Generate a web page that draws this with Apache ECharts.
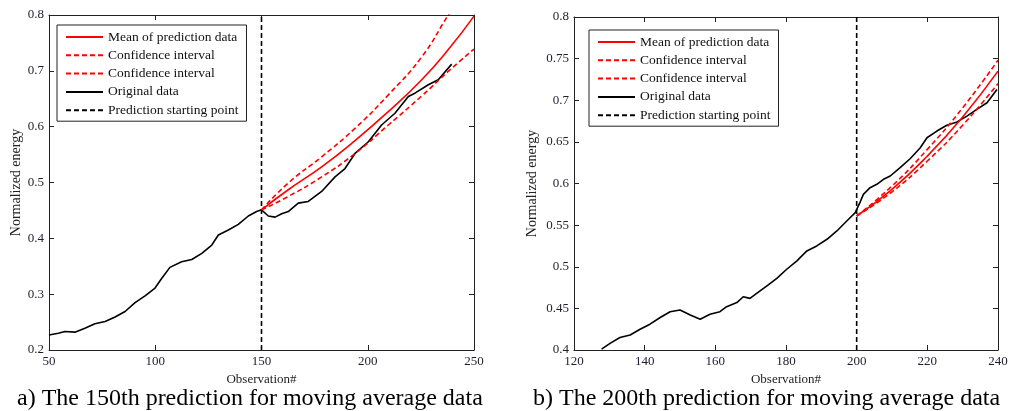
<!DOCTYPE html>
<html>
<head>
<meta charset="utf-8">
<script src="https://cdn.jsdelivr.net/npm/echarts@6/dist/echarts.min.js"></script>
<style>
html,body{margin:0;padding:0;background:#fff;}
#chart{width:1016px;height:411px;}
</style>
</head>
<body>
<div id="chart"></div>
<script>
// ---------- data ----------
const leftOrigObs = [50,54.4,57.5,62.2,66.9,71.6,76.4,81.1,85.8,90.5,95.2,99.9,103,106.9,112.4,117.2,121.9,126.6,129.7,134.4,139.1,143.8,147.7,150,153.2,156.4,159.5,162.6,167.3,172,178.3,184.6,189.3,194,200.3,206.5,212.8,219.1,222.2,228.5,233.2,239.5];
const leftOrigVal = [0.227,0.230,0.233,0.232,0.239,0.247,0.251,0.259,0.269,0.285,0.297,0.311,0.328,0.348,0.358,0.362,0.373,0.388,0.406,0.415,0.425,0.440,0.448,0.451,0.440,0.438,0.444,0.448,0.463,0.466,0.484,0.510,0.525,0.552,0.573,0.603,0.624,0.654,0.660,0.675,0.684,0.712];
const leftPredObs = [150,162.6,178.3,194,209.7,225.4,237.9,250];
const leftMean  = [0.451,0.487,0.528,0.575,0.627,0.684,0.738,0.798];
const leftUpper = [0.451,0.499,0.546,0.597,0.657,0.725,0.800,0.870];
const leftLower = [0.451,0.475,0.510,0.552,0.603,0.655,0.699,0.739];
const leftStart = 150;

const rightOrigObs = [127.8,130.2,133,135.9,138.7,141.5,144.4,147.2,150,152.9,155.7,158.5,161.3,163.2,166.1,167.9,169.8,171.7,174.6,177.4,180.2,183.1,185.9,188.7,191.6,194.4,197.2,199.6,201,201.9,203.8,205.7,207.6,209.5,212.3,215.2,218,219.9,222.7,225.5,228.4,231.2,234,236.9,239.7];
const rightOrigVal = [0.401,0.408,0.415,0.418,0.425,0.431,0.439,0.446,0.448,0.442,0.437,0.443,0.446,0.452,0.457,0.464,0.462,0.468,0.477,0.486,0.497,0.507,0.519,0.525,0.533,0.543,0.555,0.565,0.578,0.587,0.595,0.599,0.605,0.609,0.619,0.630,0.643,0.655,0.663,0.670,0.674,0.681,0.689,0.697,0.713];
const rightPredObs = [200,210,220,230,240];
const rightMean  = [0.561,0.593,0.633,0.680,0.735];
const rightUpper = [0.561,0.597,0.641,0.691,0.748];
const rightLower = [0.561,0.590,0.627,0.670,0.720];
const rightStart = 200;

const legendNames = ['Mean of prediction data','Confidence interval','Confidence interval ','Original data','Prediction starting point'];
const captionA = 'a) The 150th prediction for moving average data';
const captionB = 'b) The 200th prediction for moving average data';
const xName = 'Observation#';
const yName = 'Normalized energy';

// ---------- helpers ----------
const SERIF = 'Liberation Serif';
const zip = (xs, ys) => xs.map((x, i) => [x, ys[i]]);
const AX = '#222';

function mainX(grid, min, max, interval) {
  return {
    type: 'value', gridIndex: grid, min, max, interval, position: 'bottom',
    name: xName, nameLocation: 'middle', nameGap: 22,
    nameTextStyle: {fontFamily: SERIF, fontSize: 13, color: '#222'},
    axisLine: {show: true, onZero: false, lineStyle: {color: AX, width: 1}},
    axisTick: {show: true, inside: true, length: 5, lineStyle: {color: AX}},
    axisLabel: {fontFamily: SERIF, fontSize: 13, color: '#1e1e30', margin: 5},
    splitLine: {show: false}
  };
}
function boxX(grid, min, max, interval) {
  return {
    type: 'value', gridIndex: grid, min, max, interval, position: 'top',
    axisLine: {show: true, onZero: false, lineStyle: {color: AX, width: 1}},
    axisTick: {show: true, inside: true, length: 5, lineStyle: {color: AX}},
    axisLabel: {show: false}, splitLine: {show: false}
  };
}
function mainY(grid, min, max, interval, gap) {
  return {
    type: 'value', gridIndex: grid, min, max, interval, position: 'left',
    name: yName, nameLocation: 'middle', nameGap: gap,
    nameTextStyle: {fontFamily: SERIF, fontSize: 14, color: '#222'},
    axisLine: {show: true, onZero: false, lineStyle: {color: AX, width: 1}},
    axisTick: {show: true, inside: true, length: 5, lineStyle: {color: AX}},
    axisLabel: {fontFamily: SERIF, fontSize: 13, color: '#1e1e30', margin: 5},
    splitLine: {show: false}
  };
}
function boxY(grid, min, max, interval) {
  return {
    type: 'value', gridIndex: grid, min, max, interval, position: 'right',
    axisLine: {show: true, onZero: false, lineStyle: {color: AX, width: 1}},
    axisTick: {show: true, inside: true, length: 5, lineStyle: {color: AX}},
    axisLabel: {show: false}, splitLine: {show: false}
  };
}
function line(name, data, xi, yi, color, dashed, smooth) {
  return {
    type: 'line', name, data, xAxisIndex: xi, yAxisIndex: yi,
    symbol: 'none', showSymbol: false, smooth: !!smooth, clip: true,
    lineStyle: {color, width: 1.6, type: dashed ? [5, 3] : 'solid'},
    itemStyle: {color},
    emphasis: {disabled: true}, animation: false
  };
}
function legend(left, top) {
  return {
    data: legendNames, orient: 'vertical', left, top,
    itemWidth: 37, itemHeight: 14, itemGap: 4.3,
    padding: [5, 8, 4, 8],
    borderColor: '#222', borderWidth: 1, backgroundColor: '#fff',
    itemStyle: {opacity: 0},
    textStyle: {fontFamily: SERIF, fontSize: 13.5, color: '#111', lineHeight: 14},
    selectedMode: false
  };
}

const chart = echarts.init(document.getElementById('chart'), null, {renderer: 'canvas'});
chart.setOption({
  animation: false,
  backgroundColor: '#fff',
  grid: [
    {left: 49, top: 15, width: 425, height: 335},
    {left: 574, top: 17, width: 424, height: 333}
  ],
  xAxis: [mainX(0, 50, 250, 50), boxX(0, 50, 250, 50), mainX(1, 120, 240, 20), boxX(1, 120, 240, 20)],
  yAxis: [mainY(0, 0.2, 0.8, 0.1, 26), boxY(0, 0.2, 0.8, 0.1), mainY(1, 0.4, 0.8, 0.05, 35), boxY(1, 0.4, 0.8, 0.05)],
  legend: [legend(57, 25), legend(589, 30)],
  series: [
    line('Prediction starting point', [[leftStart, 0.2], [leftStart, 0.8]], 0, 0, '#000', true),
    line('Original data', zip(leftOrigObs, leftOrigVal), 0, 0, '#000', false),
    line('Mean of prediction data', zip(leftPredObs, leftMean), 0, 0, '#ff0000', false, true),
    line('Confidence interval', zip(leftPredObs, leftUpper), 0, 0, '#ff0000', true, true),
    line('Confidence interval ', zip(leftPredObs, leftLower), 0, 0, '#ff0000', true, true),

    line('Prediction starting point', [[rightStart, 0.4], [rightStart, 0.8]], 2, 2, '#000', true),
    line('Original data', zip(rightOrigObs, rightOrigVal), 2, 2, '#000', false),
    line('Mean of prediction data', zip(rightPredObs, rightMean), 2, 2, '#ff0000', false, true),
    line('Confidence interval', zip(rightPredObs, rightUpper), 2, 2, '#ff0000', true, true),
    line('Confidence interval ', zip(rightPredObs, rightLower), 2, 2, '#ff0000', true, true)
  ],
  graphic: [
    {type: 'text', left: 17, top: 387, style: {text: captionA, font: '24px "Liberation Serif"', fill: '#000'}},
    {type: 'text', left: 533, top: 387, style: {text: captionB, font: '24px "Liberation Serif"', fill: '#000'}}
  ]
});
</script>
</body>
</html>
